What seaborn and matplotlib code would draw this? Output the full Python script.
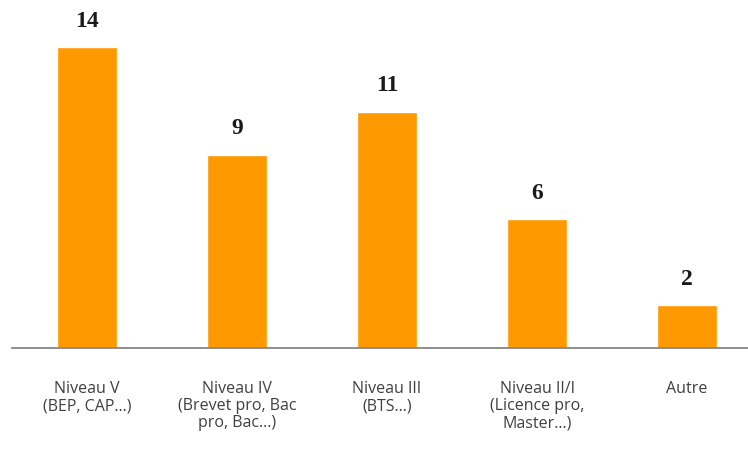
import pandas as pd
import matplotlib.pyplot as plt
import seaborn as sns

categories = [
    "Niveau V\n(BEP, CAP...)",
    "Niveau IV\n(Brevet pro, Bac\npro, Bac...)",
    "Niveau III\n(BTS...)",
    "Niveau II/I\n(Licence pro,\nMaster...)",
    "Autre",
]
counts = [14, 9, 11, 6, 2]

df = pd.DataFrame({"niveau": categories, "effectif": counts})

sns.set_theme(style="white")
plt.rcParams['font.family'] = ['Open Sans', 'DejaVu Sans']

fig = plt.figure(figsize=(7.48, 4.49), dpi=100)
ax = fig.add_axes([12 / 748, 101 / 449, 750 / 748, 348 / 449])

sns.barplot(data=df, x="niveau", y="effectif", color="#FF9900",
            saturation=1, width=0.4, ax=ax)

for i, v in enumerate(counts):
    ax.text(i, v + 1.2, str(v), ha="center", va="center",
            fontsize=17, fontweight="bold", color="#1a1a1a",
            family="Liberation Serif")

ax.set_ylim(0, 348 / 21.5)
ax.set_xlim(-0.5, 4.5)
ax.set_xlabel("")
ax.set_ylabel("")
ax.set_yticks([])
ax.tick_params(axis="x", length=0, pad=24, labelsize=11.5, labelcolor="#404040")
for lbl in ax.get_xticklabels():
    lbl.set_linespacing(1.08)
    lbl.set_verticalalignment("top")

sns.despine(ax=ax, left=True, right=True, top=True)
ax.spines["bottom"].set_color("#868686")
ax.spines["bottom"].set_linewidth(1.3)

plt.savefig("out.png", dpi=100)
